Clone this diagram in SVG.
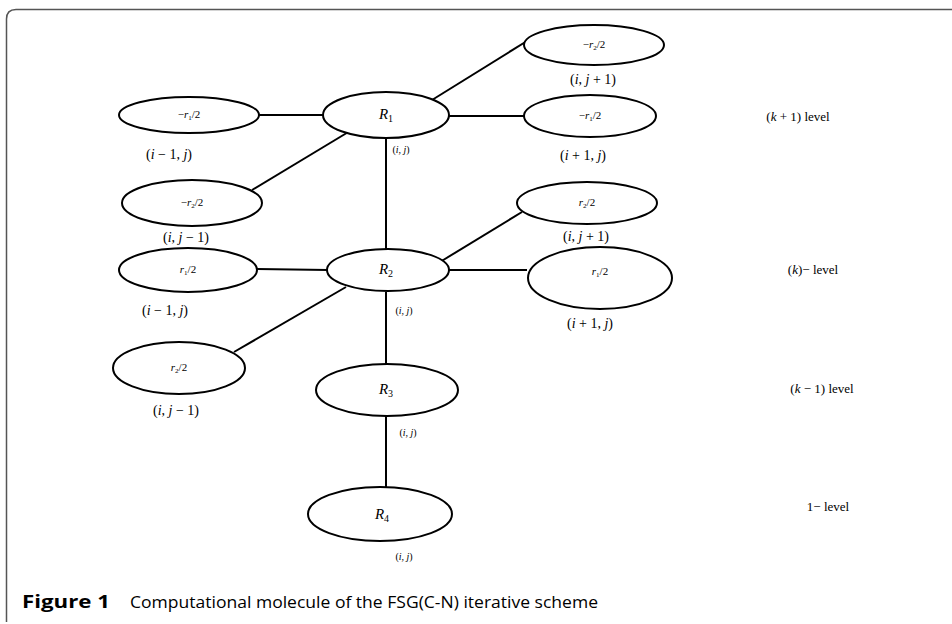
<svg xmlns="http://www.w3.org/2000/svg" width="952" height="624" viewBox="0 0 952 624">
<style>
.e{fill:#fff;stroke:#000;stroke-width:2}
.c line{stroke:#000;stroke-width:2}
.m{font-family:"Liberation Serif","DejaVu Serif",serif;fill:#000;text-anchor:middle}
.it{font-style:italic}
.s{font-size:11px}
.R{font-size:15px}
.p{font-size:14px}
.q{font-size:10px}
.lv{font-size:13px}
.cap{font-family:"Open Sans","Liberation Sans",sans-serif;font-size:17px;fill:#000}
</style>
<rect width="952" height="624" fill="#fff"/>
<path d="M6.5 622 L6.5 19 Q6.5 9.5 16 9.5 L952 9.5" fill="none" stroke="#555" stroke-width="1.5"/>
<g id="connectors" class="c">
<line x1="386" y1="138" x2="386" y2="250"/>
<line x1="432" y1="100" x2="527" y2="41"/>
<line x1="259" y1="115" x2="323" y2="115"/>
<line x1="449" y1="116" x2="524" y2="116"/>
<line x1="350" y1="131" x2="252" y2="190"/>
<line x1="257" y1="269" x2="328" y2="270"/>
<line x1="449" y1="270" x2="527" y2="270"/>
<line x1="440" y1="262" x2="522" y2="212"/>
<line x1="346" y1="287" x2="234" y2="352"/>
<line x1="386" y1="292" x2="386" y2="364"/>
<line x1="386" y1="415" x2="386" y2="487"/>
</g>
<g id="n_top_right">
<ellipse class="e" cx="594" cy="45" rx="70" ry="20"/>
<text class="m s" x="594" y="48">−<tspan class="it">r</tspan><tspan font-size="7" dy="2">2</tspan><tspan dy="-2">/2</tspan></text>
<text class="m p" x="593" y="84">(<tspan class="it">i</tspan>, <tspan class="it">j</tspan> + 1)</text>
</g>
<g id="n_R1">
<ellipse class="e" cx="386" cy="115" rx="63" ry="23"/>
<text class="m R" x="386" y="119"><tspan class="it">R</tspan><tspan font-size="10" dy="3">1</tspan></text>
<text class="m q" x="401" y="153">(<tspan class="it">i</tspan>, <tspan class="it">j</tspan>)</text>
</g>
<g id="n_R1_left">
<ellipse class="e" cx="189" cy="115" rx="70" ry="18"/>
<text class="m s" x="189" y="118">−<tspan class="it">r</tspan><tspan font-size="7" dy="2">1</tspan><tspan dy="-2">/2</tspan></text>
<text class="m p" x="169" y="159">(<tspan class="it">i</tspan> − 1, <tspan class="it">j</tspan>)</text>
</g>
<g id="n_R1_right">
<ellipse class="e" cx="590" cy="116" rx="66" ry="21"/>
<text class="m s" x="590" y="119">−<tspan class="it">r</tspan><tspan font-size="7" dy="2">1</tspan><tspan dy="-2">/2</tspan></text>
<text class="m p" x="583" y="160">(<tspan class="it">i</tspan> + 1, <tspan class="it">j</tspan>)</text>
</g>
<g id="n_R1_lowleft">
<ellipse class="e" cx="192" cy="203" rx="70" ry="23"/>
<text class="m s" x="192" y="206">−<tspan class="it">r</tspan><tspan font-size="7" dy="2">2</tspan><tspan dy="-2">/2</tspan></text>
<text class="m p" x="186" y="242">(<tspan class="it">i</tspan>, <tspan class="it">j</tspan> − 1)</text>
</g>
<g id="n_R2">
<ellipse class="e" cx="388" cy="270" rx="61" ry="21"/>
<text class="m R" x="386" y="274"><tspan class="it">R</tspan><tspan font-size="10" dy="3">2</tspan></text>
<text class="m q" x="404" y="314">(<tspan class="it">i</tspan>, <tspan class="it">j</tspan>)</text>
</g>
<g id="n_R2_upright">
<ellipse class="e" cx="587" cy="203" rx="70" ry="21"/>
<text class="m s" x="587" y="206"><tspan class="it">r</tspan><tspan font-size="7" dy="2">2</tspan><tspan dy="-2">/2</tspan></text>
<text class="m p" x="586" y="241">(<tspan class="it">i</tspan>, <tspan class="it">j</tspan> + 1)</text>
</g>
<g id="n_R2_right">
<ellipse class="e" cx="600" cy="278" rx="72" ry="31"/>
<text class="m s" x="600" y="275"><tspan class="it">r</tspan><tspan font-size="7" dy="2">1</tspan><tspan dy="-2">/2</tspan></text>
<text class="m p" x="590" y="328">(<tspan class="it">i</tspan> + 1, <tspan class="it">j</tspan>)</text>
</g>
<g id="n_R2_left">
<ellipse class="e" cx="188" cy="270" rx="69" ry="22"/>
<text class="m s" x="188" y="273"><tspan class="it">r</tspan><tspan font-size="7" dy="2">1</tspan><tspan dy="-2">/2</tspan></text>
<text class="m p" x="165" y="315">(<tspan class="it">i</tspan> − 1, <tspan class="it">j</tspan>)</text>
</g>
<g id="n_R2_lowleft">
<ellipse class="e" cx="179" cy="368" rx="66" ry="26"/>
<text class="m s" x="179" y="371"><tspan class="it">r</tspan><tspan font-size="7" dy="2">2</tspan><tspan dy="-2">/2</tspan></text>
<text class="m p" x="176" y="415">(<tspan class="it">i</tspan>, <tspan class="it">j</tspan> − 1)</text>
</g>
<g id="n_R3">
<ellipse class="e" cx="387" cy="390" rx="71" ry="26"/>
<text class="m R" x="386" y="394"><tspan class="it">R</tspan><tspan font-size="10" dy="3">3</tspan></text>
<text class="m q" x="408" y="436">(<tspan class="it">i</tspan>, <tspan class="it">j</tspan>)</text>
</g>
<g id="n_R4">
<ellipse class="e" cx="380" cy="514" rx="72" ry="27"/>
<text class="m R" x="382" y="519"><tspan class="it">R</tspan><tspan font-size="10" dy="3">4</tspan></text>
<text class="m q" x="404" y="560">(<tspan class="it">i</tspan>, <tspan class="it">j</tspan>)</text>
</g>
<g id="levels">
<text class="m lv" x="798" y="121">(<tspan class="it">k</tspan> + 1) level</text>
<text class="m lv" x="813" y="274">(<tspan class="it">k</tspan>)− level</text>
<text class="m lv" x="822" y="393">(<tspan class="it">k</tspan> − 1) level</text>
<text class="m lv" x="828" y="511">1− level</text>
</g>
<g id="caption">
<text class="cap" x="22" y="608" font-weight="bold" font-size="18" textLength="88" lengthAdjust="spacingAndGlyphs">Figure 1</text>
<text class="cap" x="130" y="608" textLength="468" lengthAdjust="spacingAndGlyphs">Computational molecule of the FSG(C-N) iterative scheme</text>
</g>
</svg>
